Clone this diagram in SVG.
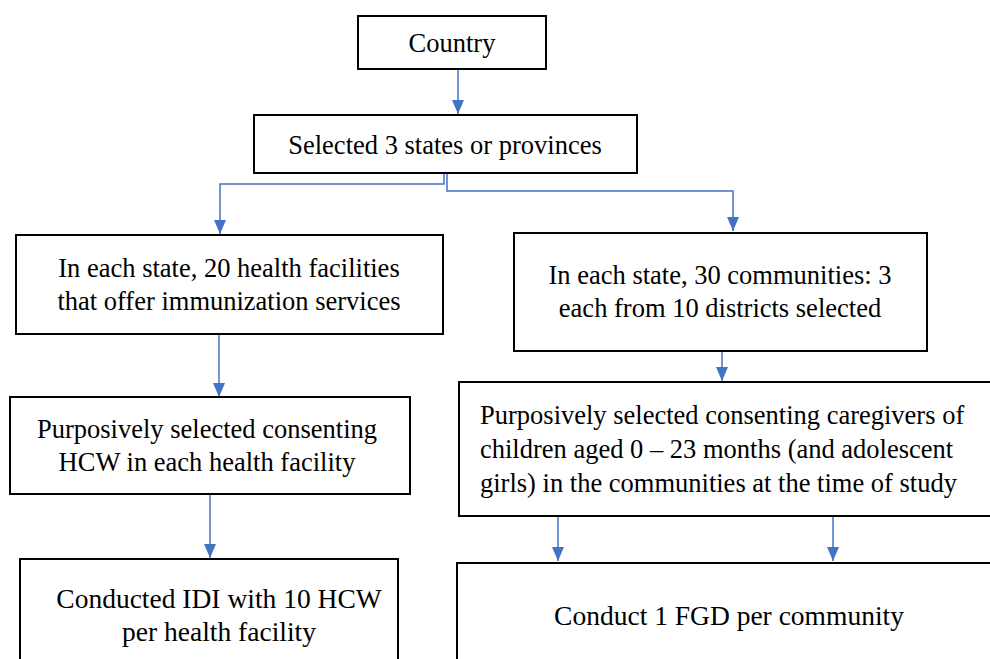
<svg xmlns="http://www.w3.org/2000/svg" width="990" height="659" viewBox="0 0 990 659">
<style>
.box{fill:#fff;stroke:#000;stroke-width:2}
.t{font-family:"Liberation Serif","DejaVu Serif",serif;font-size:26.5px;fill:#000;text-anchor:middle}
.l{font-family:"Liberation Serif","DejaVu Serif",serif;font-size:26.5px;fill:#000;text-anchor:start}
.b{font-family:"Liberation Serif","DejaVu Serif",serif;font-size:27.5px;fill:#000;text-anchor:middle}
.c{fill:none;stroke:#4472C4;stroke-width:1.5}
</style>
<defs>
<marker id="a" viewBox="0 0 14 12" refX="14" refY="6" markerWidth="14" markerHeight="12" markerUnits="userSpaceOnUse" orient="auto">
<path d="M0,0 L14,6 L0,12 z" fill="#4472C4"/>
</marker>
</defs>
<rect width="990" height="659" fill="#fff"/>
<g id="connectors">
<path class="c" d="M458,70 V114" marker-end="url(#a)"/>
<path class="c" d="M444,174 V184 H220 V234" marker-end="url(#a)"/>
<path class="c" d="M447,174 V191 H733 V231" marker-end="url(#a)"/>
<path class="c" d="M219,335 V397" marker-end="url(#a)"/>
<path class="c" d="M722,352 V381" marker-end="url(#a)"/>
<path class="c" d="M210,495 V558" marker-end="url(#a)"/>
<path class="c" d="M558,517 V561" marker-end="url(#a)"/>
<path class="c" d="M833,517 V561" marker-end="url(#a)"/>
</g>
<g id="country">
<rect class="box" x="358" y="16" width="188" height="53"/>
<text class="t" x="452" y="52">Country</text>
</g>
<g id="states">
<rect class="box" x="254" y="115" width="383" height="58"/>
<text class="t" x="445" y="154">Selected 3 states or provinces</text>
</g>
<g id="facilities">
<rect class="box" x="16" y="235" width="427" height="99"/>
<text class="t" x="229" y="277">In each state, 20 health facilities</text>
<text class="t" x="229" y="310">that offer immunization services</text>
</g>
<g id="communities">
<rect class="box" x="514" y="233" width="413" height="118"/>
<text class="t" x="720" y="284">In each state, 30 communities: 3</text>
<text class="t" x="720" y="317">each from 10 districts selected</text>
</g>
<g id="hcw">
<rect class="box" x="10" y="397" width="400" height="97"/>
<text class="t" x="207" y="438">Purposively selected consenting</text>
<text class="t" x="207" y="471">HCW in each health facility</text>
</g>
<g id="caregivers">
<rect class="box" x="459" y="382" width="540" height="134"/>
<text class="l" x="480" y="424">Purposively selected consenting caregivers of</text>
<text class="l" x="480" y="458">children aged 0 – 23 months (and adolescent</text>
<text class="l" x="480" y="492">girls) in the communities at the time of study</text>
</g>
<g id="idi">
<rect class="box" x="20" y="559" width="378" height="110"/>
<text class="b" x="219" y="608">Conducted IDI with 10 HCW</text>
<text class="b" x="219" y="641">per health facility</text>
</g>
<g id="fgd">
<rect class="box" x="457" y="563" width="545" height="110"/>
<text class="b" x="729" y="625">Conduct 1 FGD per community</text>
</g>
</svg>
